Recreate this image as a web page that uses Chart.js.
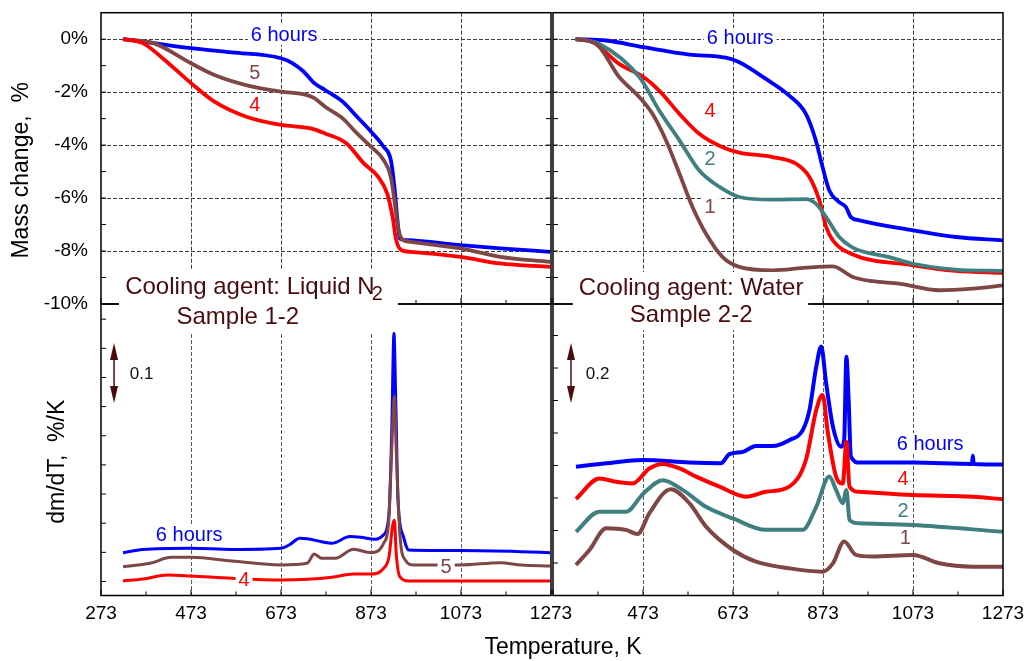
<!DOCTYPE html>
<html>
<head>
<meta charset="utf-8">
<script src="https://cdn.jsdelivr.net/npm/chart.js@4.4.0/dist/chart.umd.min.js"></script>
<style>
  html, body { margin: 0; padding: 0; background: #fff; }
  #wrap { position: relative; width: 1027px; height: 661px; }
  #wrap canvas { position: absolute; left: 0; top: 0; }
</style>
</head>
<body>
<div id="wrap">
  <canvas id="tl" width="1027" height="661"></canvas>
  <canvas id="tr" width="1027" height="661"></canvas>
  <canvas id="bl" width="1027" height="661"></canvas>
  <canvas id="br" width="1027" height="661"></canvas>
</div>
<script>
// ---- data ----
const tempTicks = [273, 373, 473, 573, 673, 773, 873, 973, 1073, 1173, 1273];
const massTicks = [-10, -9, -8, -7, -6, -5, -4, -3, -2, -1, 0];

// Top left: Liquid N2, mass change %
const tlTemp6 = [322, 366, 473, 564, 673, 699, 723, 747, 771, 810, 842, 873, 901, 917, 925, 931, 937, 953, 1072, 1160, 1271];
const tlMass6 = [0, -0.09, -0.34, -0.5, -0.72, -0.91, -1.22, -1.66, -1.92, -2.36, -2.93, -3.49, -4.06, -4.56, -5.57, -6.7, -7.53, -7.59, -7.78, -7.9, -8.03];
const tlTemp5 = [322, 390, 473, 525, 604, 673, 731, 747, 771, 810, 842, 873, 901, 917, 925, 933, 941, 961, 1072, 1160, 1271];
const tlMass5 = [0, -0.15, -0.91, -1.35, -1.77, -1.98, -2.11, -2.23, -2.55, -2.99, -3.56, -4.06, -4.56, -5.2, -6.08, -7.09, -7.53, -7.65, -7.9, -8.22, -8.41];
const tlTemp4 = [322, 366, 406, 473, 525, 596, 673, 739, 771, 818, 857, 889, 909, 921, 929, 941, 961, 1072, 1160, 1271];
const tlMass4 = [0, -0.15, -0.66, -1.66, -2.36, -2.93, -3.24, -3.37, -3.56, -3.93, -4.69, -5.2, -5.83, -6.71, -7.59, -7.97, -8.03, -8.22, -8.47, -8.6];

// Top right: Water, mass change %
const trTemp6 = [323, 391, 474, 576, 657, 687, 746, 798, 835, 857, 872, 887, 909, 924, 935, 954, 1073, 1168, 1273];
const trMass6 = [0, -0.05, -0.3, -0.58, -0.7, -0.87, -1.5, -2.13, -2.82, -3.82, -4.83, -5.71, -6.15, -6.34, -6.72, -6.84, -7.22, -7.47, -7.6];
const trTemp4 = [323, 361, 420, 474, 509, 554, 598, 650, 687, 761, 813, 843, 865, 880, 895, 935, 1073, 1168, 1273];
const trMass4 = [0, -0.11, -0.93, -1.43, -1.94, -2.82, -3.57, -4.08, -4.28, -4.45, -4.7, -5.21, -6.09, -7.09, -7.6, -8.1, -8.54, -8.75, -8.83];
const trTemp2 = [323, 376, 465, 509, 554, 598, 643, 687, 761, 835, 857, 880, 909, 939, 1020, 1073, 1168, 1273];
const trMass2 = [0, -0.18, -1.43, -2.69, -3.82, -4.96, -5.58, -5.96, -6.06, -6.04, -6.21, -6.72, -7.47, -7.87, -8.23, -8.48, -8.7, -8.75];
const trTemp1 = [323, 369, 420, 465, 494, 524, 554, 583, 613, 650, 687, 761, 835, 895, 939, 983, 1042, 1131, 1205, 1273];
const trMass1 = [0, -0.18, -1.43, -2.19, -2.82, -3.82, -5.08, -6.34, -7.35, -8.23, -8.6, -8.73, -8.63, -8.58, -8.98, -9.14, -9.23, -9.48, -9.42, -9.3];

// Bottom left: dm/dT curves (shifted for display)
const blTemp6 = [322, 366, 473, 564, 673, 691, 715, 731, 763, 786, 826, 850, 882, 901, 913, 919, 924, 928, 933, 945, 957, 1072, 1207, 1271];
const blRate6 = [0.0735, 0.079, 0.081, 0.079, 0.081, 0.0866, 0.0981, 0.0975, 0.0923, 0.0895, 0.101, 0.0998, 0.0963, 0.104, 0.141, 0.278, 0.45, 0.335, 0.164, 0.101, 0.078, 0.077, 0.0752, 0.0735];
const blTemp5 = [322, 382, 429, 473, 564, 673, 731, 747, 763, 794, 834, 873, 901, 913, 919, 925, 929, 937, 949, 969, 1072, 1160, 1207, 1271];
const blRate5 = [0.0495, 0.0552, 0.0655, 0.0655, 0.0592, 0.0523, 0.0552, 0.0712, 0.0638, 0.0638, 0.0792, 0.0735, 0.0895, 0.135, 0.25, 0.341, 0.25, 0.107, 0.061, 0.0523, 0.0523, 0.0563, 0.0523, 0.0506];
const blTemp4 = [322, 366, 421, 473, 564, 673, 731, 786, 834, 873, 901, 913, 921, 925, 929, 937, 957, 1072, 1271];
const blRate4 = [0.0249, 0.0283, 0.0352, 0.0335, 0.0294, 0.0266, 0.0277, 0.0312, 0.0369, 0.0369, 0.0466, 0.0666, 0.12, 0.129, 0.0723, 0.0323, 0.0249, 0.0249, 0.0249];
const blRateTicks = [0.024, 0.074, 0.124, 0.174, 0.224, 0.274, 0.324, 0.374, 0.424, 0.474];

// Bottom right: dm/dT curves (shifted for display)
const brTemp6 = [324, 391, 474, 576, 646, 665, 695, 724, 761, 798, 828, 843, 858, 869, 880, 895, 913, 920, 925, 930, 935, 954, 1073, 1204, 1206, 1208, 1273];
const brRate6 = [0.396, 0.407, 0.417, 0.409, 0.407, 0.435, 0.442, 0.46, 0.46, 0.478, 0.509, 0.571, 0.704, 0.766, 0.653, 0.52, 0.458, 0.478, 0.735, 0.601, 0.427, 0.409, 0.409, 0.405, 0.43, 0.405, 0.403];
const brTemp4 = [324, 376, 413, 450, 487, 517, 554, 591, 643, 702, 746, 798, 835, 858, 872, 884, 902, 917, 925, 932, 954, 1073, 1206, 1273];
const brRate4 = [0.297, 0.36, 0.35, 0.345, 0.391, 0.405, 0.391, 0.366, 0.335, 0.304, 0.319, 0.335, 0.417, 0.571, 0.617, 0.499, 0.366, 0.345, 0.473, 0.335, 0.319, 0.309, 0.304, 0.296];
const brTemp2 = [324, 376, 435, 474, 517, 561, 613, 673, 746, 828, 858, 887, 902, 917, 925, 932, 954, 1073, 1273];
const brRate2 = [0.196, 0.258, 0.258, 0.314, 0.355, 0.325, 0.273, 0.237, 0.202, 0.202, 0.273, 0.366, 0.325, 0.284, 0.325, 0.232, 0.222, 0.217, 0.196];
const brTemp1 = [324, 354, 391, 435, 461, 487, 535, 576, 613, 673, 724, 798, 872, 895, 920, 946, 983, 1073, 1132, 1206, 1273];
const brRate1 = [0.0938, 0.14, 0.207, 0.202, 0.189, 0.253, 0.327, 0.284, 0.212, 0.14, 0.104, 0.0836, 0.0733, 0.099, 0.166, 0.125, 0.12, 0.125, 0.099, 0.0887, 0.0887];
const brRateTicks = [0.1, 0.2, 0.3, 0.4, 0.5, 0.6, 0.7, 0.8];

// ---- look ----
const BLUE = '#0000ff', RED = '#ff0000', BROWN = '#7f4646', TEAL = '#3f7f7f', MAROON = '#4a0c0c';
const FONT = '"Liberation Sans", Arial, Helvetica, sans-serif';
Chart.defaults.font.family = FONT;
Chart.defaults.color = '#000';

const isMajorTemp = v => (v - 273) % 200 === 0;
const pts = (xs, ys) => xs.map((x, i) => ({ x: x, y: ys[i] }));

function series(xs, ys, color, width) {
    return {
        data: pts(xs, ys),
        borderColor: color,
        borderWidth: width,
        pointRadius: 0,
        fill: false,
        cubicInterpolationMode: 'monotone'
    };
}

// no extra room for half labels at the axis ends
function noPad(s) {
    s.paddingTop = 0; s.paddingBottom = 0; s.paddingLeft = 0; s.paddingRight = 0;
}

// Frame, inward ticks, curve labels, scale arrow, text boxes and titles
const panelPlugin = {
    id: 'panel',
    afterDraw(chart, args, o) {
        const ctx = chart.ctx, a = chart.chartArea;
        const xs = chart.scales.x, ys = chart.scales.y;
        const line = (x1, y1, x2, y2) => { ctx.beginPath(); ctx.moveTo(x1, y1); ctx.lineTo(x2, y2); ctx.stroke(); };
        ctx.save();
        ctx.strokeStyle = '#000';
        ctx.lineWidth = 1;
        tempTicks.forEach(v => {
            const px = xs.getPixelForValue(v);
            line(px, a.bottom, px, a.bottom - (isMajorTemp(v) ? 6 : 4));
        });
        o.yTicks.forEach(v => {
            const py = ys.getPixelForValue(v);
            line(a.left, py, a.left + 5, py);
            if (o.rightTicks) line(a.right, py, a.right - 5, py);
        });
        ctx.lineWidth = 1.5;
        ctx.strokeRect(a.left, a.top, a.right - a.left, a.bottom - a.top);

        // curve labels
        ctx.font = '20px ' + FONT;
        ctx.textAlign = 'center';
        ctx.textBaseline = 'middle';
        (o.labels || []).forEach(l => {
            const px = xs.getPixelForValue(l.t), py = ys.getPixelForValue(l.v);
            const w = ctx.measureText(l.text).width;
            ctx.fillStyle = '#fff';
            ctx.fillRect(px - w / 2 - 3, py - 10, w + 6, 20);
            ctx.fillStyle = l.color;
            ctx.fillText(l.text, px, py + 1);
        });

        // scale arrow
        if (o.arrow) {
            const ar = o.arrow;
            const px = xs.getPixelForValue(ar.t);
            const y1 = ys.getPixelForValue(ar.from), y2 = ys.getPixelForValue(ar.to);
            ctx.strokeStyle = MAROON;
            ctx.fillStyle = MAROON;
            ctx.lineWidth = 1.5;
            line(px, y1 + 8, px, y2 - 8);
            [[y1, 1], [y2, -1]].forEach(([yy, d]) => {
                ctx.beginPath();
                ctx.moveTo(px, yy);
                ctx.lineTo(px - 4, yy + 17 * d);
                ctx.lineTo(px + 4, yy + 17 * d);
                ctx.closePath();
                ctx.fill();
            });
            ctx.fillStyle = '#111';
            ctx.font = '17px ' + FONT;
            ctx.textAlign = 'left';
            ctx.fillText(ar.text, xs.getPixelForValue(ar.textT), (y1 + y2) / 2 + 1);
        }

        // text box sitting across the top/bottom panel border
        if (o.box) {
            const b = o.box;
            const x1 = xs.getPixelForValue(b.tFrom), x2 = xs.getPixelForValue(b.tTo);
            ctx.fillStyle = '#fff';
            ctx.fillRect(x1, a.top - b.up, x2 - x1, b.up + b.down);
            ctx.fillStyle = MAROON;
            ctx.textBaseline = 'alphabetic';
            b.lines.forEach(ln => {
                ctx.font = '24px ' + FONT;
                const w = ctx.measureText(ln.text).width;
                ctx.font = '20px ' + FONT;
                const ws = ln.sub ? ctx.measureText(ln.sub).width - 3 : 0;
                const cx = xs.getPixelForValue(ln.t);
                const left = cx - (w + ws) / 2;
                ctx.font = '24px ' + FONT;
                ctx.textAlign = 'left';
                ctx.fillText(ln.text, left, a.top + ln.dy);
                if (ln.sub) {
                    ctx.font = '20px ' + FONT;
                    ctx.fillText(ln.sub, left + w - 3, a.top + ln.dy + 6);
                }
            });
        }

        // axis titles
        ctx.fillStyle = '#000';
        ctx.font = '23px ' + FONT;
        ctx.textAlign = 'center';
        ctx.textBaseline = 'middle';
        if (o.yTitle) {
            ctx.save();
            ctx.translate(a.left - o.yTitle.dx, (a.top + a.bottom) / 2 + o.yTitle.dy);
            ctx.rotate(-Math.PI / 2);
            ctx.fillText(o.yTitle.text, 0, 0);
            ctx.restore();
        }
        if (o.xTitle) {
            ctx.fillText(o.xTitle.text, a.left + o.xTitle.dx, a.bottom + o.xTitle.dy);
        }
        ctx.restore();
    }
};

function makePanel(id, cfg) {
    const gridCol = cfg.gridColor;
    return new Chart(document.getElementById(id), {
        type: 'line',
        data: { datasets: cfg.datasets },
        options: {
            responsive: false,
            animation: false,
            events: [],
            layout: { padding: cfg.padding },
            plugins: {
                legend: { display: false },
                tooltip: { enabled: false },
                panel: cfg.panel
            },
            scales: {
                x: {
                    type: 'linear',
                    min: 273,
                    max: 1273,
                    afterBuildTicks: s => { s.ticks = tempTicks.map(v => ({ value: v })); },
                    afterFit: s => { s.height = cfg.xHeight; noPad(s); },
                    grid: {
                        drawTicks: false,
                        lineWidth: 1,
                        color: c => (c.tick && isMajorTemp(c.tick.value) && c.tick.value !== 273 && c.tick.value !== 1273) ? gridCol : 'rgba(0,0,0,0)'
                    },
                    border: { display: false, dash: [4, 2] },
                    ticks: {
                        display: cfg.xLabels,
                        autoSkip: false,
                        maxRotation: 0,
                        padding: 7,
                        font: { size: 19 },
                        color: '#000',
                        callback: v => (isMajorTemp(v) && !(cfg.skipFirst && v === 273)) ? String(v) : ''
                    }
                },
                y: {
                    type: 'linear',
                    min: cfg.yMin,
                    max: cfg.yMax,
                    afterBuildTicks: s => { s.ticks = cfg.yTicks.map(v => ({ value: v })); },
                    afterFit: s => { s.width = cfg.yWidth; noPad(s); },
                    grid: {
                        drawTicks: false,
                        lineWidth: 1,
                        color: c => (cfg.yGrid && c.tick && c.tick.value % 2 === 0 && c.tick.value !== cfg.yMin) ? gridCol : 'rgba(0,0,0,0)'
                    },
                    border: { display: false, dash: [4, 2] },
                    ticks: {
                        display: cfg.yLabels,
                        padding: 13,
                        font: { size: 19 },
                        color: '#000',
                        callback: v => (v % 2 === 0) ? (v === 0 ? '0%' : v + '%') : ''
                    }
                }
            }
        },
        plugins: [panelPlugin]
    });
}

// Top left: Liquid N2
makePanel('tl', {
    padding: { left: 0, top: 12.7, right: 476, bottom: 357 },
    xHeight: 0, yWidth: 101, xLabels: false, yLabels: true,
    yMin: -10, yMax: 1, yTicks: massTicks, yGrid: true, gridColor: '#3a3a3a',
    datasets: [
        series(tlTemp4, tlMass4, RED, 3.8),
        series(tlTemp5, tlMass5, BROWN, 3.8),
        series(tlTemp6, tlMass6, BLUE, 3.8)
    ],
    panel: {
        yTicks: massTicks, rightTicks: true,
        labels: [
            { t: 680, v: 0.16, text: '6 hours', color: BLUE },
            { t: 615, v: -1.27, text: '5', color: BROWN },
            { t: 615, v: -2.48, text: '4', color: RED }
        ],
        yTitle: { text: 'Mass change,  %', dx: 79, dy: 12 }
    }
});

// Top right: Water
makePanel('tr', {
    padding: { left: 553, top: 12.7, right: 24, bottom: 357 },
    xHeight: 0, yWidth: 0, xLabels: false, yLabels: false,
    yMin: -10, yMax: 1, yTicks: massTicks, yGrid: true, gridColor: '#3a3a3a',
    datasets: [
        series(trTemp1, trMass1, BROWN, 3.8),
        series(trTemp2, trMass2, TEAL, 3.8),
        series(trTemp4, trMass4, RED, 3.8),
        series(trTemp6, trMass6, BLUE, 3.8)
    ],
    panel: {
        yTicks: massTicks, rightTicks: false,
        labels: [
            { t: 689, v: 0.05, text: '6 hours', color: BLUE },
            { t: 622, v: -2.71, text: '4', color: RED },
            { t: 622, v: -4.52, text: '2', color: TEAL },
            { t: 622, v: -6.33, text: '1', color: BROWN }
        ]
    }
});

// Bottom left: Liquid N2, dm/dT
makePanel('bl', {
    padding: { left: 0, top: 304, right: 476, bottom: 35.5 },
    xHeight: 30, yWidth: 101, xLabels: true, yLabels: false,
    yMin: 0, yMax: 0.5, yTicks: blRateTicks, yGrid: false, gridColor: '#5a5a5a',
    datasets: [
        series(blTemp4, blRate4, RED, 3),
        series(blTemp5, blRate5, BROWN, 3),
        series(blTemp6, blRate6, BLUE, 3)
    ],
    panel: {
        yTicks: blRateTicks, rightTicks: false,
        labels: [
            { t: 469, v: 0.1055, text: '6 hours', color: BLUE },
            { t: 1040, v: 0.0506, text: '5', color: BROWN },
            { t: 591, v: 0.0283, text: '4', color: RED }
        ],
        arrow: { t: 302, from: 0.433, to: 0.330, text: '0.1', textT: 337 },
        box: {
            tFrom: 313, tTo: 933, up: 34, down: 28,
            lines: [
                { text: 'Cooling agent: Liquid N', sub: '2', t: 613, dy: -10 },
                { text: 'Sample 1-2', t: 577, dy: 20 }
            ]
        },
        yTitle: { text: 'dm/dT,  %/K', dx: 43, dy: 12 },
        xTitle: { text: 'Temperature, K', dx: 462, dy: 52 }
    }
});

// Bottom right: Water, dm/dT
makePanel('br', {
    padding: { left: 553, top: 304, right: 24, bottom: 35.5 },
    xHeight: 30, yWidth: 0, xLabels: true, yLabels: false, skipFirst: true,
    yMin: 0, yMax: 0.897, yTicks: brRateTicks, yGrid: false, gridColor: '#5a5a5a',
    datasets: [
        series(brTemp1, brRate1, BROWN, 4),
        series(brTemp2, brRate2, TEAL, 4),
        series(brTemp4, brRate4, RED, 4),
        series(brTemp6, brRate6, BLUE, 4)
    ],
    panel: {
        yTicks: brRateTicks, rightTicks: false,
        labels: [
            { t: 1111, v: 0.469, text: '6 hours', color: BLUE },
            { t: 1051, v: 0.3615, text: '4', color: RED },
            { t: 1051, v: 0.263, text: '2', color: TEAL },
            { t: 1056, v: 0.177, text: '1', color: BROWN }
        ],
        arrow: { t: 313, from: 0.777, to: 0.592, text: '0.2', textT: 346 },
        box: {
            tFrom: 317, tTo: 840, up: 32, down: 26,
            lines: [
                { text: 'Cooling agent: Water', t: 580, dy: -9 },
                { text: 'Sample 2-2', t: 580, dy: 18 }
            ]
        }
    }
});
</script>
</body>
</html>
